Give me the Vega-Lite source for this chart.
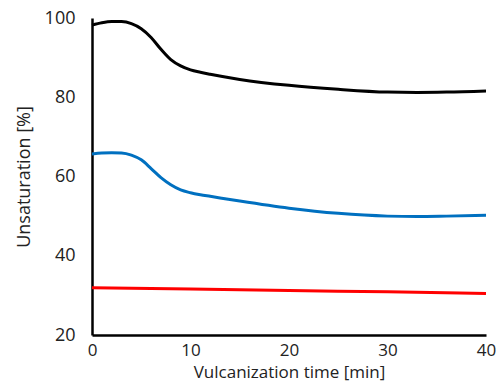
{
  "$schema": "https://vega.github.io/schema/vega-lite/v6.json",
  "width": 394,
  "height": 317,
  "autosize": {"type": "none"},
  "padding": {"left": 92, "top": 18, "right": 10, "bottom": 53},
  "background": "white",
  "config": {
    "view": {"stroke": null},
    "font": "Open Sans"
  },
  "data": {
    "values": [
      {"t": 0, "v": 98.2, "s": "A"}, {"t": 1, "v": 98.8, "s": "A"}, {"t": 2, "v": 99.1, "s": "A"}, {"t": 3, "v": 99.1, "s": "A"}, {"t": 4, "v": 98.6, "s": "A"}, {"t": 5, "v": 97.3, "s": "A"}, {"t": 6, "v": 95.1, "s": "A"}, {"t": 7, "v": 92.1, "s": "A"}, {"t": 8, "v": 89.5, "s": "A"}, {"t": 9, "v": 87.9, "s": "A"}, {"t": 10, "v": 86.9, "s": "A"}, {"t": 11, "v": 86.3, "s": "A"}, {"t": 12, "v": 85.8, "s": "A"}, {"t": 15, "v": 84.5, "s": "A"}, {"t": 20, "v": 83.0, "s": "A"}, {"t": 25, "v": 82.0, "s": "A"}, {"t": 30, "v": 81.3, "s": "A"}, {"t": 33, "v": 81.2, "s": "A"}, {"t": 36, "v": 81.3, "s": "A"}, {"t": 40, "v": 81.6, "s": "A"},
      {"t": 0, "v": 65.7, "s": "B"}, {"t": 1, "v": 65.9, "s": "B"}, {"t": 2, "v": 66.0, "s": "B"}, {"t": 3, "v": 65.95, "s": "B"}, {"t": 4, "v": 65.4, "s": "B"}, {"t": 5, "v": 64.2, "s": "B"}, {"t": 6, "v": 62.0, "s": "B"}, {"t": 7, "v": 59.7, "s": "B"}, {"t": 8, "v": 57.9, "s": "B"}, {"t": 9, "v": 56.6, "s": "B"}, {"t": 10, "v": 55.9, "s": "B"}, {"t": 11, "v": 55.4, "s": "B"}, {"t": 12, "v": 55.0, "s": "B"}, {"t": 15, "v": 53.8, "s": "B"}, {"t": 20, "v": 52.0, "s": "B"}, {"t": 25, "v": 50.7, "s": "B"}, {"t": 30, "v": 50.0, "s": "B"}, {"t": 33, "v": 49.9, "s": "B"}, {"t": 36, "v": 50.0, "s": "B"}, {"t": 40, "v": 50.2, "s": "B"},
      {"t": 0, "v": 31.9, "s": "C"}, {"t": 10, "v": 31.6, "s": "C"}, {"t": 20, "v": 31.2, "s": "C"}, {"t": 30, "v": 30.9, "s": "C"}, {"t": 40, "v": 30.5, "s": "C"}
    ]
  },
  "mark": {"type": "line", "interpolate": "monotone", "strokeWidth": 3},
  "encoding": {
    "x": {
      "field": "t", "type": "quantitative",
      "scale": {"domain": [0, 40], "nice": false},
      "axis": {
        "title": "Vulcanization time [min]", "values": [0, 10, 20, 30, 40],
        "grid": false, "ticks": false, "domainColor": "black", "domainWidth": 2.5,
        "labelFontSize": 17, "labelColor": "#222", "labelPadding": 7, "labelFlush": false,
        "titleFontSize": 17, "titleFontWeight": "normal", "titleColor": "#222", "titlePadding": 6
      }
    },
    "y": {
      "field": "v", "type": "quantitative",
      "scale": {"domain": [20, 100], "nice": false, "zero": false},
      "axis": {
        "title": "Unsaturation [%]", "values": [20, 40, 60, 80, 100],
        "grid": false, "ticks": false, "domainColor": "black", "domainWidth": 2.5,
        "labelFontSize": 18, "labelColor": "#222", "labelPadding": 17, "labelFlush": false,
        "titleFontSize": 18, "titleFontWeight": "normal", "titleColor": "#222", "titlePadding": 11
      }
    },
    "color": {
      "field": "s", "type": "nominal",
      "scale": {"domain": ["A", "B", "C"], "range": ["#000000", "#0070C0", "#FF0000"]},
      "legend": null
    }
  }
}
